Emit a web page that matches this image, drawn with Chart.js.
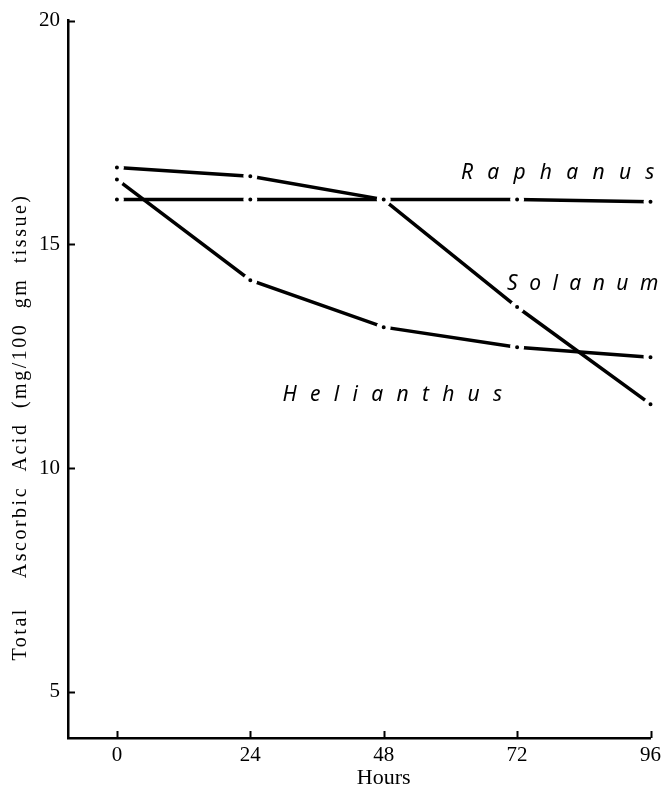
<!DOCTYPE html>
<html>
<head>
<meta charset="utf-8">
<script src="https://cdn.jsdelivr.net/npm/chart.js@4.4.1/dist/chart.umd.min.js"></script>
<style>
  html, body { margin: 0; padding: 0; background: #ffffff; }
  #wrap { width: 666px; height: 791px; position: relative; }
</style>
</head>
<body>
<div id="wrap"><canvas id="chart"></canvas></div>
<script>
// Values (hours after harvest vs ascorbic acid)
const hours = [0, 24, 48, 72, 96];
const raphanus = [16.0, 16.0, 16.0, 16.0, 15.95];
const solanum = [16.72, 16.52, 16.0, 13.6, 11.43];
const helianthus = [16.45, 14.2, 13.15, 12.7, 12.48];
const xTicks = [0, 24, 48, 72, 96];
const yTicks = [5, 10, 15, 20];
const seriesNames = ['Raphanus', 'Solanum', 'Helianthus'];
const yTitle = 'Total  Ascorbic Acid (mg/100 gm tissue)';
const xTitle = 'Hours';

// where the species names sit, in data units: [fromHour, toHour, baselineValue]
const nameSpots = [
    [61.9, 96.7, 16.47],
    [70.2, 97.4, 13.97],
    [29.8, 69.3, 11.5]
];

const toPoints = (vals) => hours.map((h, i) => ({ x: h, y: vals[i] }));

// inward tick marks, both axis titles and the spaced species names
const paperPlugin = {
    id: 'paper',
    afterDraw(chart) {
        const ctx = chart.ctx;
        const area = chart.chartArea;
        const xs = chart.scales.x;
        const ys = chart.scales.y;

        ctx.save();
        ctx.strokeStyle = '#000';
        ctx.lineWidth = 2;
        yTicks.forEach(v => {
            const py = Math.round(ys.getPixelForValue(v)) + 0.5;
            ctx.beginPath();
            ctx.moveTo(area.left, py);
            ctx.lineTo(area.left + 7, py);
            ctx.stroke();
        });
        xTicks.forEach(v => {
            const px = Math.round(xs.getPixelForValue(v)) + 0.5;
            ctx.beginPath();
            ctx.moveTo(px, area.bottom);
            ctx.lineTo(px, area.bottom - 7);
            ctx.stroke();
        });

        // x title sits under the 48 h tick in the original
        ctx.fillStyle = '#000';
        ctx.font = '22px "Liberation Serif", serif';
        ctx.textAlign = 'center';
        ctx.textBaseline = 'middle';
        ctx.fillText(xTitle, xs.getPixelForValue(48), 778);

        // y title
        ctx.font = '20px "Liberation Serif", serif';
        ctx.letterSpacing = '2.5px';
        ctx.wordSpacing = '7px';
        ctx.translate(21, 427);
        ctx.rotate(-Math.PI / 2);
        ctx.fillText(yTitle, 0, 0);
        ctx.restore();

        // species names, letters spread evenly across their span
        ctx.save();
        ctx.fillStyle = '#000';
        ctx.font = 'italic 21px "Noto Sans", sans-serif';
        ctx.textBaseline = 'alphabetic';
        ctx.textAlign = 'left';
        seriesNames.forEach((name, i) => {
            const [h0, h1, v] = nameSpots[i];
            const x0 = xs.getPixelForValue(h0);
            const x1 = xs.getPixelForValue(h1);
            const by = ys.getPixelForValue(v);
            const chars = name.split('');
            const widths = chars.map(c => ctx.measureText(c).width);
            const natural = widths.reduce((a, b) => a + b, 0);
            const gap = (x1 - x0 - natural) / (chars.length - 1);
            let cx = x0;
            chars.forEach((c, k) => {
                ctx.fillText(c, cx, by);
                cx += widths[k] + gap;
            });
        });
        ctx.restore();
    }
};

const lineStyle = {
    borderColor: '#000',
    borderWidth: 3.5,
    tension: 0,
    pointRadius: 4.5,
    pointBorderWidth: 5,
    pointBorderColor: '#ffffff',
    pointBackgroundColor: '#000',
    clip: false
};

new Chart(document.getElementById('chart'), {
    type: 'line',
    data: {
        datasets: [
            { label: seriesNames[0], data: toPoints(raphanus), ...lineStyle },
            { label: seriesNames[1], data: toPoints(solanum), ...lineStyle },
            { label: seriesNames[2], data: toPoints(helianthus), ...lineStyle }
        ]
    },
    options: {
        responsive: true,
        maintainAspectRatio: false,
        animation: false,
        events: [],
        layout: { padding: { top: 20, right: 13, left: 0, bottom: 0 } },
        plugins: {
            legend: { display: false },
            tooltip: { enabled: false }
        },
        scales: {
            x: {
                type: 'linear',
                min: -8.8,
                max: 96,
                afterBuildTicks: (scale) => { scale.ticks = xTicks.map(v => ({ value: v })); },
                afterFit: (scale) => { scale.height = 53; },
                grid: { display: false, tickLength: 0 },
                border: { display: true, color: '#000', width: 2.5 },
                ticks: {
                    color: '#000',
                    padding: 5,
                    maxRotation: 0,
                    font: { family: '"Liberation Serif", serif', size: 21 }
                }
            },
            y: {
                type: 'linear',
                min: 3.97,
                max: 20,
                afterBuildTicks: (scale) => { scale.ticks = yTicks.map(v => ({ value: v })); },
                afterFit: (scale) => { scale.width = 68; },
                grid: { display: false, tickLength: 0 },
                border: { display: true, color: '#000', width: 2.5 },
                ticks: {
                    color: '#000',
                    padding: 8,
                    font: { family: '"Liberation Serif", serif', size: 21 }
                }
            }
        }
    },
    plugins: [paperPlugin]
});
</script>
</body>
</html>
